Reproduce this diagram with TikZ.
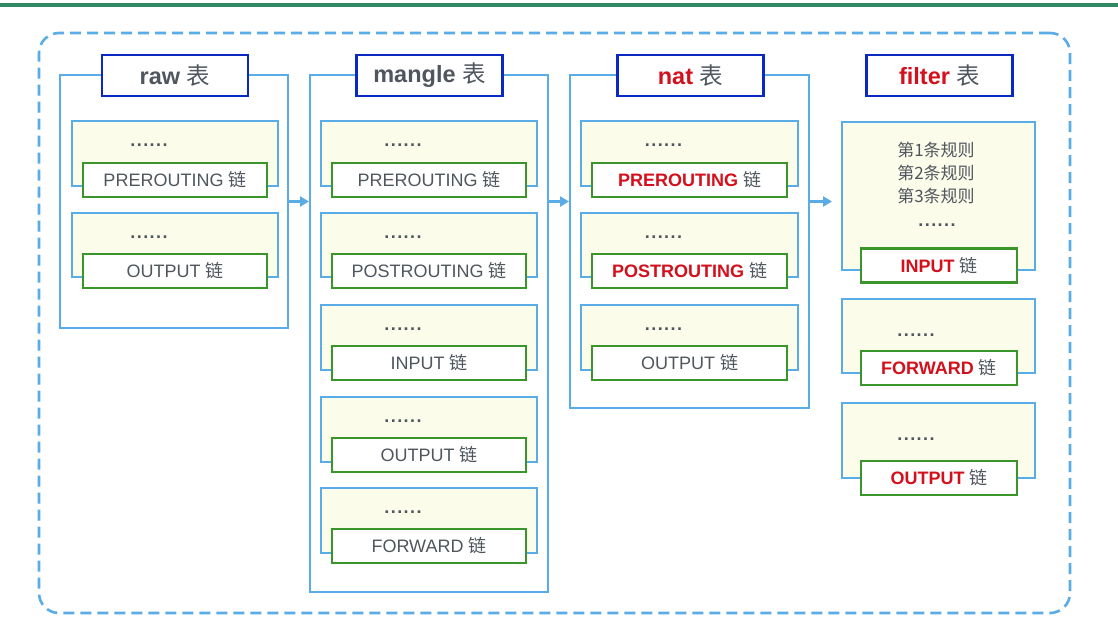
\documentclass[tikz,border=0pt]{standalone}
\usepackage{fontspec}
\setmainfont{Liberation Sans}
\newfontfamily\cjk{Noto Sans CJK SC}
\newfontfamily\dotfont[LetterSpace=8]{Liberation Sans}
\usetikzlibrary{arrows.meta}
\definecolor{boxblue}{HTML}{5AACE6}
\definecolor{titleblue}{HTML}{0A28C4}
\definecolor{chaingreen}{HTML}{3A962A}
\definecolor{lightfill}{HTML}{FCFCEA}
\definecolor{txtgray}{HTML}{50565E}
\definecolor{redtxt}{HTML}{D4101C}
\definecolor{topgreen}{HTML}{2F8A64}
\newcommand\zh[1]{{\cjk\mdseries #1}}
\newcommand\chainunit[8]{%
  \node[chainbox, minimum width=#3pt, minimum height={(#5)-(#4)}] (#1) at (#2,{((#4)+(#5))/2}) {};
  \node[linkbox, minimum width=#6pt] (#1-link) at (#2,{(#7)+18}) {#8};
  \node[dotstxt] (#1-dots) at ({(#2)-26},{(#4)+25}) {......};
}
\tikzset{
  outerbox/.style={draw=boxblue, line width=2pt, rectangle, inner sep=0pt},
  titlebox/.style={draw=titleblue, line width=2.4pt, fill=white, minimum width=146pt, minimum height=41pt, inner sep=0pt, text=txtgray, font=\fontsize{23.5}{26}\selectfont\bfseries},
  chainbox/.style={draw=boxblue, line width=2pt, fill=lightfill, inner sep=0pt},
  linkbox/.style={draw=chaingreen, line width=2.5pt, fill=white, minimum height=34pt, inner sep=0pt, text=txtgray, font=\fontsize{18}{20}\selectfont},
  dotstxt/.style={text=txtgray, font=\dotfont\fontsize{18}{20}\selectfont\bfseries, anchor=base, inner sep=0pt},
  ruletxt/.style={text=txtgray, font=\cjk\fontsize{17}{23}\selectfont, align=center, inner sep=0pt},
  arr/.style={draw=boxblue, line width=2.2pt, -{Triangle[length=9pt,width=10pt]}},
  framebox/.style={draw=boxblue, line width=2.6pt, dash pattern=on 11pt off 6pt, rounded corners=20pt, inner sep=0pt}
}
\begin{document}
\begin{tikzpicture}[x=1pt,y=-1pt]
\useasboundingbox[fill=white] (0,0) rectangle (1118,632);
\draw[topgreen, line width=4.5pt] (0,5) -- (1118,5);
\node[framebox, minimum width=1031pt, minimum height=580pt] (frame) at (554.5,323) {};

% outer table boxes
\node[outerbox, minimum width=228pt, minimum height=253pt] (rawbox) at (174,201.5) {};
\node[outerbox, minimum width=238pt, minimum height=517pt] (manglebox) at (429,333.5) {};
\node[outerbox, minimum width=239pt, minimum height=333pt] (natbox) at (689.5,241.5) {};

% titles
\node[titlebox] (rawtitle) at (175,75.5) {raw \zh{表}};
\node[titlebox] (mangletitle) at (429.5,75.5) {mangle \zh{表}};
\node[titlebox] (nattitle) at (690.5,75.5) {{\color{redtxt}nat} \zh{表}};
\node[titlebox] (filtertitle) at (939.5,75.5) {{\color{redtxt}filter} \zh{表}};

% raw chains
\chainunit{raw1}{175}{206}{121}{186}{184}{162}{PREROUTING \zh{链}}
\chainunit{raw2}{175}{206}{213}{277}{184}{253}{OUTPUT \zh{链}}

% mangle chains
\chainunit{man1}{429}{216}{121}{186}{194}{162}{PREROUTING \zh{链}}
\chainunit{man2}{429}{216}{213}{277}{194}{253}{POSTROUTING \zh{链}}
\chainunit{man3}{429}{216}{305}{370}{194}{345}{INPUT \zh{链}}
\chainunit{man4}{429}{216}{397}{462}{194}{437}{OUTPUT \zh{链}}
\chainunit{man5}{429}{216}{488}{553}{194}{528}{FORWARD \zh{链}}

% nat chains
\chainunit{nat1}{689.5}{217}{121}{186}{195}{162}{{\bfseries\color{redtxt}PREROUTING} \zh{链}}
\chainunit{nat2}{689.5}{217}{213}{277}{195}{253}{{\bfseries\color{redtxt}POSTROUTING} \zh{链}}
\chainunit{nat3}{689.5}{217}{305}{370}{195}{345}{OUTPUT \zh{链}}

% filter chains
\node[chainbox, minimum width=193pt, minimum height=148pt] (fil1) at (938.5,196) {};
\node[linkbox, minimum width=156pt] (fil1-link) at (939,265.5) {{\bfseries\color{redtxt}INPUT} \zh{链}};
\node[ruletxt] (fil1-rules) at (936,173) {第1条规则\\第2条规则\\第3条规则};
\node[dotstxt] (fil1-dots) at (937,226) {......};
\node[chainbox, minimum width=193pt, minimum height=74pt] (fil2) at (938.5,336) {};
\node[linkbox, minimum width=156pt] (fil2-link) at (939,368) {{\bfseries\color{redtxt}FORWARD} \zh{链}};
\node[dotstxt] (fil2-dots) at (916,336) {......};
\node[chainbox, minimum width=193pt, minimum height=75pt] (fil3) at (938.5,440.5) {};
\node[linkbox, minimum width=156pt] (fil3-link) at (939,478) {{\bfseries\color{redtxt}OUTPUT} \zh{链}};
\node[dotstxt] (fil3-dots) at (916,440) {......};

% arrows
\coordinate (filterin) at (832,201.5);
\draw[arr] (rawbox.east) -- (manglebox.west |- rawbox.east);
\draw[arr] (manglebox.east |- rawbox.east) -- (natbox.west |- rawbox.east);
\draw[arr] (natbox.east |- rawbox.east) -- (filterin);
\end{tikzpicture}
\end{document}
